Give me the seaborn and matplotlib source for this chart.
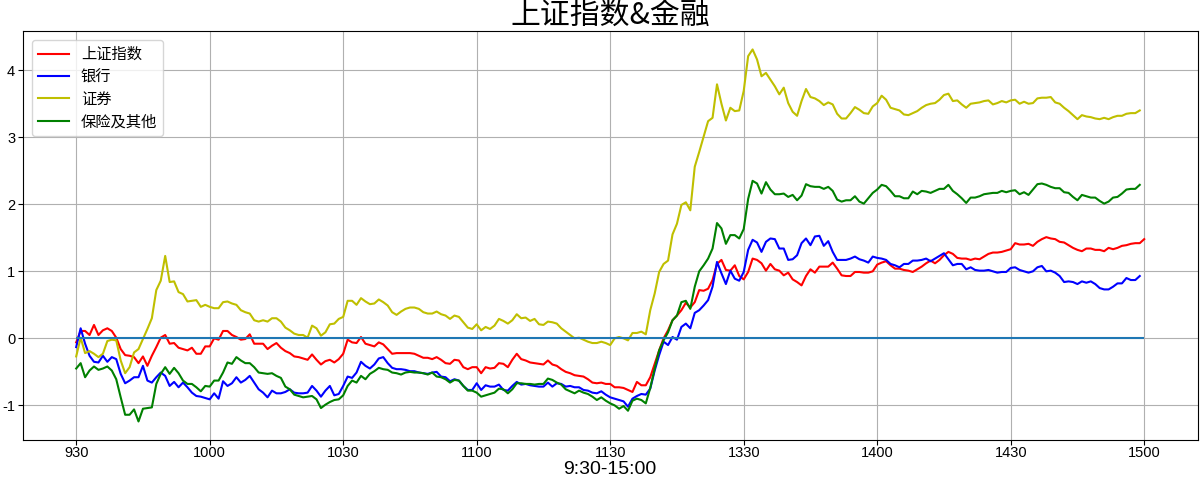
import matplotlib
matplotlib.use("Agg")
import numpy as np
import pandas as pd
import matplotlib.pyplot as plt
import seaborn as sns

# ─────────────────────────────────────────────
# data: % change by trading minute (index 0 = 9:30, 240 = 15:00)
# ─────────────────────────────────────────────
tick_labels = ["930", "1000", "1030", "1100", "1130", "1330", "1400", "1430", "1500"]
tick_step = 30

sz_index = [
    -0.06, 0.11, 0.11, 0.05, 0.20, 0.05, 0.12, 0.15, 0.11, 0.01,
    -0.16, -0.25, -0.26, -0.28, -0.37, -0.27, -0.41, -0.26, -0.13, 0.01,
    0.05, -0.08, -0.07, -0.14, -0.16, -0.18, -0.14, -0.23, -0.23, -0.12,
    -0.12, 0.00, -0.02, 0.11, 0.11, 0.05, 0.02, -0.02, -0.01, 0.06,
    -0.08, -0.08, -0.08, -0.16, -0.11, -0.07, -0.14, -0.19, -0.22, -0.27,
    -0.28, -0.30, -0.32, -0.24, -0.32, -0.39, -0.34, -0.32, -0.36, -0.31,
    -0.23, -0.02, -0.06, -0.07, 0.02, -0.08, -0.10, -0.12, -0.06, -0.09,
    -0.16, -0.23, -0.22, -0.22, -0.22, -0.22, -0.23, -0.26, -0.29, -0.29,
    -0.31, -0.28, -0.32, -0.37, -0.38, -0.32, -0.33, -0.43, -0.46, -0.43,
    -0.43, -0.52, -0.43, -0.45, -0.44, -0.37, -0.38, -0.43, -0.32, -0.23,
    -0.31, -0.33, -0.36, -0.37, -0.38, -0.39, -0.33, -0.39, -0.41, -0.46,
    -0.50, -0.52, -0.55, -0.56, -0.57, -0.61, -0.66, -0.67, -0.66, -0.68,
    -0.68, -0.73, -0.73, -0.74, -0.77, -0.80, -0.65, -0.70, -0.70, -0.58,
    -0.38, -0.18, 0.00, 0.12, 0.27, 0.34, 0.42, 0.53, 0.46, 0.54,
    0.72, 0.71, 0.74, 0.87, 1.11, 1.17, 1.02, 1.01, 1.09, 0.93,
    0.88, 0.99, 1.19, 1.17, 1.12, 1.01, 1.11, 1.03, 1.01, 0.94,
    0.98, 0.88, 0.84, 0.79, 0.93, 1.03, 0.98, 1.07, 1.07, 1.07,
    1.13, 1.04, 0.94, 0.93, 0.93, 0.99, 0.99, 0.98, 0.98, 1.00,
    1.10, 1.13, 1.15, 1.09, 1.04, 1.04, 1.02, 1.01, 0.99, 1.03,
    1.07, 1.12, 1.16, 1.12, 1.17, 1.24, 1.29, 1.26, 1.20, 1.19,
    1.19, 1.17, 1.19, 1.18, 1.22, 1.26, 1.28, 1.28, 1.29, 1.31,
    1.33, 1.42, 1.40, 1.40, 1.41, 1.38, 1.44, 1.48, 1.51, 1.49,
    1.48, 1.44, 1.43, 1.39, 1.35, 1.32, 1.30, 1.34, 1.34, 1.32,
    1.32, 1.30, 1.35, 1.33, 1.35, 1.38, 1.39, 1.41, 1.42, 1.42,
    1.48,
]

bank = [
    -0.13, 0.15, -0.08, -0.26, -0.35, -0.36, -0.26, -0.35, -0.28, -0.31,
    -0.53, -0.67, -0.63, -0.58, -0.58, -0.41, -0.63, -0.66, -0.58, -0.51,
    -0.56, -0.71, -0.65, -0.73, -0.66, -0.73, -0.81, -0.86, -0.87, -0.89,
    -0.91, -0.82, -0.90, -0.64, -0.71, -0.67, -0.58, -0.66, -0.62, -0.56,
    -0.66, -0.76, -0.81, -0.88, -0.78, -0.82, -0.82, -0.80, -0.76, -0.81,
    -0.82, -0.82, -0.81, -0.71, -0.78, -0.87, -0.78, -0.71, -0.85, -0.83,
    -0.71, -0.57, -0.59, -0.51, -0.35, -0.41, -0.45, -0.39, -0.30, -0.28,
    -0.37, -0.44, -0.46, -0.46, -0.47, -0.49, -0.49, -0.51, -0.52, -0.53,
    -0.51, -0.50, -0.57, -0.58, -0.64, -0.61, -0.63, -0.71, -0.77, -0.77,
    -0.67, -0.77, -0.70, -0.72, -0.72, -0.69, -0.77, -0.78, -0.71, -0.65,
    -0.69, -0.68, -0.70, -0.71, -0.72, -0.72, -0.66, -0.72, -0.67, -0.68,
    -0.72, -0.71, -0.73, -0.73, -0.77, -0.78, -0.81, -0.82, -0.79, -0.84,
    -0.88, -0.90, -0.92, -0.94, -1.02, -0.90, -0.86, -0.83, -0.84, -0.75,
    -0.48, -0.25, -0.05, -0.10, 0.02, -0.02, 0.17, 0.22, 0.15, 0.38,
    0.42, 0.49, 0.57, 0.77, 1.14, 0.97, 0.81, 1.01, 0.89, 0.86,
    0.99, 1.32, 1.47, 1.43, 1.29, 1.44, 1.49, 1.48, 1.34, 1.34,
    1.17, 1.18, 1.24, 1.42, 1.49, 1.39, 1.52, 1.53, 1.38, 1.45,
    1.29, 1.17, 1.17, 1.17, 1.19, 1.22, 1.18, 1.16, 1.13, 1.22,
    1.20, 1.19, 1.17, 1.11, 1.09, 1.06, 1.11, 1.11, 1.16, 1.16,
    1.17, 1.19, 1.15, 1.19, 1.23, 1.27, 1.18, 1.09, 1.11, 1.11,
    1.03, 1.06, 1.02, 1.01, 1.01, 1.02, 1.00, 0.98, 0.99, 0.99,
    1.05, 1.06, 1.02, 1.00, 0.98, 1.00, 1.06, 1.08, 1.00, 1.01,
    0.98, 0.93, 0.84, 0.85, 0.84, 0.81, 0.85, 0.83, 0.85, 0.81,
    0.75, 0.73, 0.73, 0.77, 0.82, 0.82, 0.90, 0.87, 0.87, 0.93,
]

broker = [
    -0.27, 0.01, -0.22, -0.19, -0.23, -0.28, -0.23, -0.04, -0.02, -0.03,
    -0.33, -0.52, -0.43, -0.21, -0.16, -0.01, 0.14, 0.30, 0.72, 0.86,
    1.23, 0.84, 0.85, 0.69, 0.66, 0.55, 0.56, 0.57, 0.47, 0.50,
    0.47, 0.45, 0.45, 0.54, 0.55, 0.52, 0.50, 0.42, 0.39, 0.37,
    0.27, 0.25, 0.27, 0.25, 0.30, 0.30, 0.25, 0.16, 0.12, 0.07,
    0.05, 0.05, 0.01, 0.19, 0.15, 0.04, 0.09, 0.21, 0.22, 0.29,
    0.32, 0.56, 0.56, 0.50, 0.60, 0.55, 0.51, 0.52, 0.58, 0.54,
    0.49, 0.39, 0.35, 0.40, 0.44, 0.46, 0.46, 0.44, 0.39, 0.37,
    0.37, 0.40, 0.36, 0.34, 0.29, 0.34, 0.32, 0.24, 0.16, 0.14,
    0.21, 0.12, 0.17, 0.14, 0.19, 0.29, 0.26, 0.22, 0.27, 0.36,
    0.30, 0.31, 0.26, 0.29, 0.21, 0.20, 0.25, 0.24, 0.22, 0.15,
    0.10, 0.05, 0.00, 0.01, -0.02, -0.05, -0.07, -0.07, -0.05, -0.07,
    -0.10, 0.00, 0.02, 0.00, -0.03, 0.08, 0.08, 0.10, 0.06, 0.42,
    0.67, 0.99, 1.11, 1.16, 1.55, 1.71, 1.99, 2.03, 1.91, 2.56,
    2.78, 3.01, 3.24, 3.29, 3.79, 3.50, 3.25, 3.44, 3.39, 3.40,
    3.69, 4.21, 4.31, 4.16, 3.91, 3.96, 3.86, 3.76, 3.64, 3.74,
    3.51, 3.38, 3.32, 3.54, 3.72, 3.60, 3.58, 3.54, 3.48, 3.52,
    3.49, 3.35, 3.28, 3.28, 3.36, 3.45, 3.41, 3.36, 3.35, 3.46,
    3.51, 3.62, 3.56, 3.44, 3.42, 3.40, 3.34, 3.33, 3.36, 3.39,
    3.44, 3.48, 3.50, 3.51, 3.56, 3.63, 3.65, 3.54, 3.55, 3.49,
    3.44, 3.50, 3.51, 3.52, 3.54, 3.55, 3.49, 3.51, 3.54, 3.52,
    3.55, 3.56, 3.50, 3.53, 3.50, 3.51, 3.58, 3.59, 3.59, 3.60,
    3.52, 3.50, 3.44, 3.39, 3.33, 3.27, 3.33, 3.31, 3.30, 3.28,
    3.27, 3.29, 3.27, 3.30, 3.32, 3.32, 3.35, 3.36, 3.36, 3.40,
]

insurance = [
    -0.45, -0.37, -0.58, -0.48, -0.42, -0.47, -0.45, -0.42, -0.48, -0.61,
    -0.88, -1.14, -1.14, -1.06, -1.24, -1.05, -1.04, -1.03, -0.68, -0.53,
    -0.43, -0.53, -0.44, -0.52, -0.63, -0.68, -0.68, -0.73, -0.79, -0.71,
    -0.72, -0.63, -0.63, -0.51, -0.36, -0.38, -0.28, -0.33, -0.37, -0.37,
    -0.43, -0.51, -0.52, -0.53, -0.52, -0.56, -0.59, -0.72, -0.76, -0.84,
    -0.86, -0.88, -0.87, -0.86, -0.91, -1.04, -0.99, -0.95, -0.92, -0.91,
    -0.85, -0.71, -0.63, -0.66, -0.56, -0.61, -0.53, -0.49, -0.44, -0.46,
    -0.47, -0.51, -0.52, -0.54, -0.51, -0.50, -0.51, -0.51, -0.52, -0.54,
    -0.51, -0.57, -0.58, -0.61, -0.66, -0.62, -0.63, -0.71, -0.78, -0.78,
    -0.81, -0.87, -0.85, -0.83, -0.81, -0.75, -0.76, -0.82, -0.76, -0.67,
    -0.67, -0.68, -0.68, -0.69, -0.68, -0.68, -0.60, -0.62, -0.66, -0.69,
    -0.76, -0.79, -0.82, -0.78, -0.81, -0.83, -0.87, -0.92, -0.88, -0.93,
    -0.97, -1.00, -1.05, -1.01, -1.08, -0.93, -0.90, -0.92, -0.97, -0.74,
    -0.45, -0.18, -0.03, 0.09, 0.27, 0.34, 0.54, 0.56, 0.44, 0.77,
    1.00, 1.09, 1.19, 1.34, 1.72, 1.64, 1.41, 1.54, 1.54, 1.49,
    1.63, 2.08, 2.35, 2.31, 2.16, 2.33, 2.22, 2.15, 2.15, 2.16,
    2.11, 2.14, 2.06, 2.13, 2.30, 2.27, 2.26, 2.26, 2.23, 2.26,
    2.20, 2.07, 2.04, 2.06, 2.06, 2.12, 2.04, 2.01, 2.09, 2.17,
    2.22, 2.29, 2.27, 2.20, 2.12, 2.12, 2.09, 2.09, 2.19, 2.15,
    2.20, 2.19, 2.17, 2.20, 2.23, 2.23, 2.29, 2.20, 2.15, 2.09,
    2.02, 2.10, 2.10, 2.12, 2.15, 2.16, 2.17, 2.17, 2.20, 2.18,
    2.20, 2.21, 2.15, 2.18, 2.14, 2.22, 2.30, 2.31, 2.29, 2.26,
    2.24, 2.24, 2.18, 2.17, 2.11, 2.06, 2.14, 2.12, 2.10, 2.10,
    2.05, 2.01, 2.04, 2.10, 2.11, 2.16, 2.22, 2.23, 2.23, 2.29,
]

series = {"上证指数": sz_index, "银行": bank, "证券": broker, "保险及其他": insurance}
palette = {"上证指数": "r", "银行": "b", "证券": "y", "保险及其他": "g"}

df = pd.concat(
    [pd.DataFrame({"minute": np.arange(len(v)), "pct": v, "name": k}) for k, v in series.items()],
    ignore_index=True,
)

# ─────────────────────────────────────────────
# plot
# ─────────────────────────────────────────────
plt.rcParams["font.family"] = ["Noto Sans CJK SC", "DejaVu Sans"]
plt.rcParams["axes.unicode_minus"] = False

fig = plt.figure(figsize=(12, 4.82), dpi=100)
ax = fig.add_axes([0.019, 0.087, 0.979, 0.849])

sns.lineplot(data=df, x="minute", y="pct", hue="name", hue_order=list(series),
             palette=palette, linewidth=1.5, ax=ax)
ax.hlines(0, 0, len(sz_index) - 1, color="#1f77b4", linewidth=1.5)

# digits only on the axes -> Latin font with tighter line box
num_font = ["Liberation Sans", "DejaVu Sans"]
n_ticks = len(tick_labels)
ax.set_xticks(np.arange(n_ticks) * tick_step)
ax.set_xticklabels(tick_labels, fontsize=10.5, family=num_font)
for lbl in ax.get_yticklabels():
    lbl.set_family(num_font)
    lbl.set_fontsize(10.5)
ax.tick_params(axis="x", pad=1)
ax.tick_params(axis="y", pad=2)
ax.grid(True, color="#b0b0b0", linewidth=0.8)

ax.set_title("上证指数&金融", fontsize=21.5, pad=0)
ax.set_xlabel("9:30-15:00", fontsize=14, family=num_font, labelpad=0.3)
ax.set_ylabel("")
ax.legend(loc="upper left", fontsize=11, title=None, labelspacing=0.35,
          borderaxespad=0.6)

fig.savefig("out.png", dpi=100)
